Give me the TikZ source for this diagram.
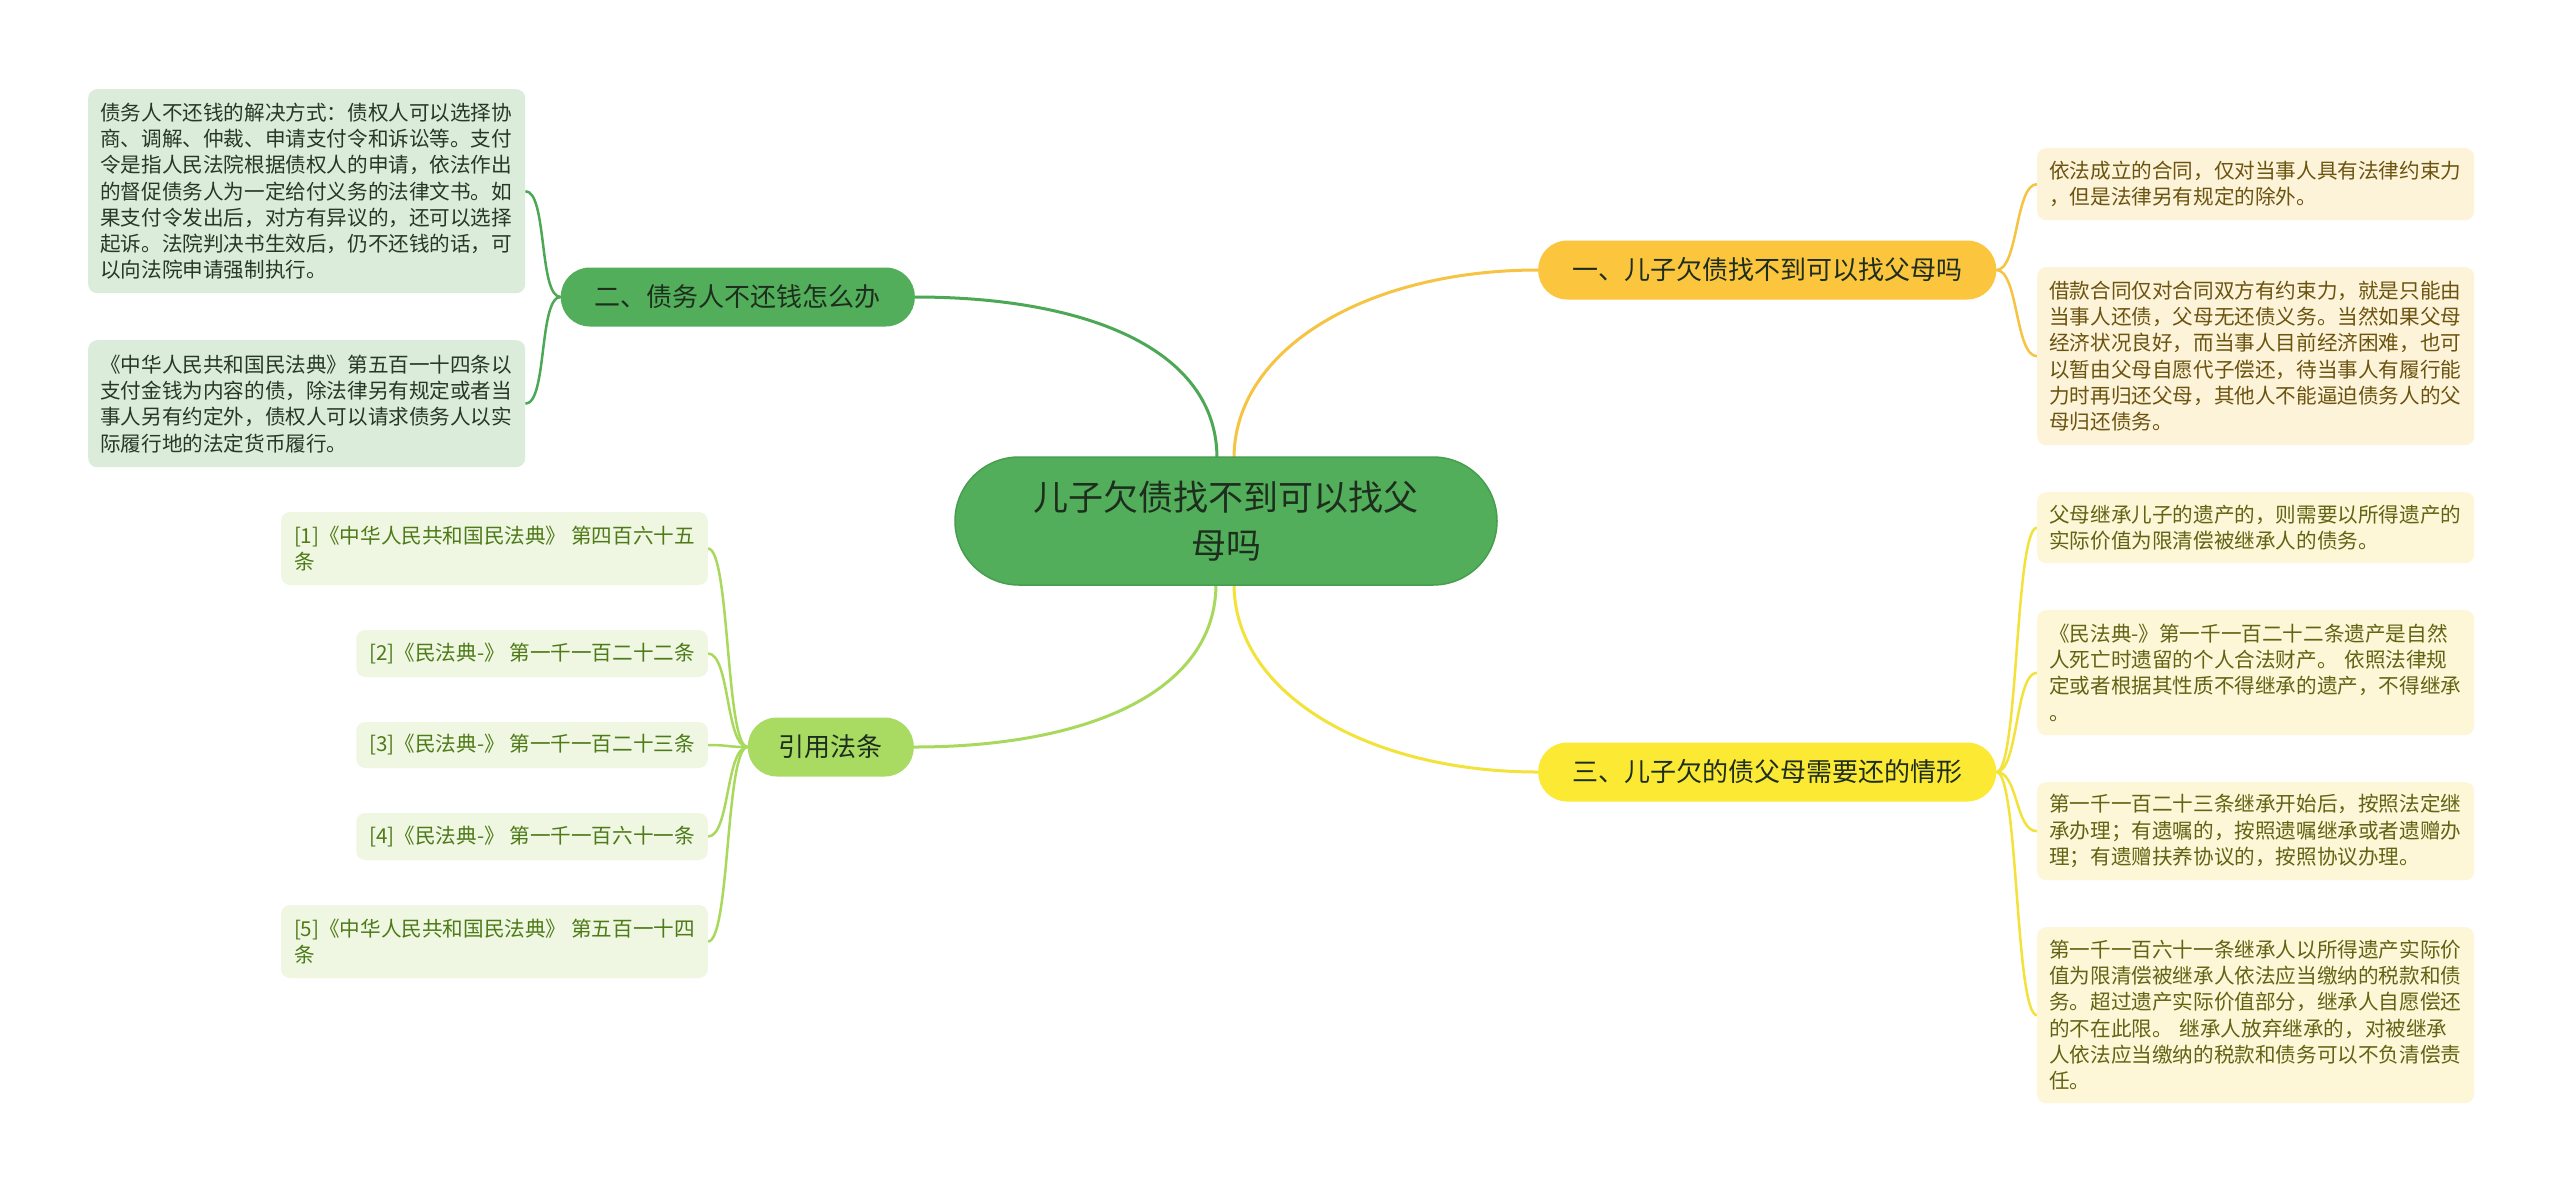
\documentclass[tikz,border=0pt]{standalone}
\usepackage{fontspec}
\setmainfont{Noto Sans CJK SC}
\usetikzlibrary{calc}
\pgfdeclarelayer{bg}
\pgfsetlayers{bg,main}
\definecolor{cCentral}{HTML}{52AE5A}
\definecolor{cCentralLine}{HTML}{479E4F}
\definecolor{cGreen}{HTML}{52AE5A}
\definecolor{cLime}{HTML}{A9DB62}
\definecolor{cOrange}{HTML}{FBC53D}
\definecolor{cYellow}{HTML}{FBE934}
\definecolor{eGreen}{HTML}{4CA855}
\definecolor{eLime}{HTML}{A9D95C}
\definecolor{eOrange}{HTML}{F6C342}
\definecolor{eYellow}{HTML}{F2E23A}
\definecolor{fL}{HTML}{DCECDB}
\definecolor{tL}{HTML}{263826}
\definecolor{fR}{HTML}{EFF7E2}
\definecolor{tR}{HTML}{4E7A18}
\definecolor{fY}{HTML}{FDF3D9}
\definecolor{tY}{HTML}{6B5410}
\definecolor{fZ}{HTML}{FDF7D7}
\definecolor{tZ}{HTML}{636314}
\definecolor{tDark}{HTML}{1E2E1E}
\begin{document}
\begin{tikzpicture}[x=1pt,y=-1pt,
  rootbox/.style={fill=cCentral,draw=cCentralLine,line width=1.5pt,rounded corners=64pt,
    minimum width=542pt,minimum height=128pt,align=center,text=tDark,
    font=\fontsize{35pt}{48pt}\selectfont},
  branchbox/.style={rounded corners=29pt,minimum height=59pt,inner xsep=34pt,inner ysep=0pt,
    text=tDark,font=\fontsize{26pt}{30pt}\selectfont},
  leafbox/.style={rounded corners=9pt,align=left,inner xsep=12pt,inner ysep=6pt,
    font=\fontsize{20.6pt}{26.3pt}\selectfont},
  leafL/.style={leafbox,fill=fL,text=tL,text width=413pt},
  leafR/.style={leafbox,fill=fR,text=tR,inner xsep=13pt},
  leafY/.style={leafbox,fill=fY,text=tY,text width=413pt},
  leafZ/.style={leafbox,fill=fZ,text=tZ,text width=413pt},
  trunk/.style={line width=3pt},
  twig/.style={line width=2.5pt}
]
\begin{pgfonlayer}{bg}
\fill[white] (0,0) rectangle (2560,1195);
\end{pgfonlayer}
\useasboundingbox (0,0) rectangle (2560,1195);

% root
\node[rootbox] (root) at (1226,521) {儿子欠债找不到可以找父\\母吗};

% branches
\node[branchbox,fill=cOrange,anchor=west] (b1) at (1538,270) {一、儿子欠债找不到可以找父母吗};
\node[branchbox,fill=cYellow,anchor=west] (b3) at (1538,772) {三、儿子欠的债父母需要还的情形};
\node[branchbox,fill=cGreen,anchor=east] (b2) at (915,297) {二、债务人不还钱怎么办};
\node[branchbox,fill=cLime,anchor=east,inner xsep=31pt] (b4) at (914,747) {引用法条};

% left leaves (b2)
\node[leafL,anchor=north west,minimum height=204pt] (l1) at (88,89) {债务人不还钱的解决方式：债权人可以选择协\\商、调解、仲裁、申请支付令和诉讼等。支付\\令是指人民法院根据债权人的申请，依法作出\\的督促债务人为一定给付义务的法律文书。如\\果支付令发出后，对方有异议的，还可以选择\\起诉。法院判决书生效后，仍不还钱的话，可\\以向法院申请强制执行。};
\node[leafL,anchor=north west,minimum height=127pt] (l2) at (88,340) {《中华人民共和国民法典》第五百一十四条以\\支付金钱为内容的债，除法律另有规定或者当\\事人另有约定外，债权人可以请求债务人以实\\际履行地的法定货币履行。};

% reference leaves (b4)
\node[leafR,anchor=east,minimum height=73pt] (r1) at (708,548.5) {[1]《中华人民共和国民法典》 第四百六十五\\条};
\node[leafR,anchor=east,minimum height=47pt] (r2) at (708,653.5) {[2]《民法典-》 第一千一百二十二条};
\node[leafR,anchor=east,minimum height=46pt] (r3) at (708,745) {[3]《民法典-》 第一千一百二十三条};
\node[leafR,anchor=east,minimum height=47pt] (r4) at (708,836.5) {[4]《民法典-》 第一千一百六十一条};
\node[leafR,anchor=east,minimum height=73pt] (r5) at (708,941.5) {[5]《中华人民共和国民法典》 第五百一十四\\条};

% right leaves (b1)
\node[leafY,anchor=north west,minimum height=72pt] (y1) at (2037,148) {依法成立的合同，仅对当事人具有法律约束力\\，但是法律另有规定的除外。};
\node[leafY,anchor=north west,minimum height=178pt] (y2) at (2037,267) {借款合同仅对合同双方有约束力，就是只能由\\当事人还债，父母无还债义务。当然如果父母\\经济状况良好，而当事人目前经济困难，也可\\以暂由父母自愿代子偿还，待当事人有履行能\\力时再归还父母，其他人不能逼迫债务人的父\\母归还债务。};

% right leaves (b3)
\node[leafZ,anchor=north west,minimum height=71pt] (z1) at (2037,492) {父母继承儿子的遗产的，则需要以所得遗产的\\实际价值为限清偿被继承人的债务。};
\node[leafZ,anchor=north west,minimum height=125pt] (z2) at (2037,610) {《民法典-》第一千一百二十二条遗产是自然\\人死亡时遗留的个人合法财产。 依照法律规\\定或者根据其性质不得继承的遗产，不得继承\\。};
\node[leafZ,anchor=north west,minimum height=98pt] (z3) at (2037,782) {第一千一百二十三条继承开始后，按照法定继\\承办理；有遗嘱的，按照遗嘱继承或者遗赠办\\理；有遗赠扶养协议的，按照协议办理。};
\node[leafZ,anchor=north west,minimum height=176pt] (z4) at (2037,927) {第一千一百六十一条继承人以所得遗产实际价\\值为限清偿被继承人依法应当缴纳的税款和债\\务。超过遗产实际价值部分，继承人自愿偿还\\的不在此限。 继承人放弃继承的，对被继承\\人依法应当缴纳的税款和债务可以不负清偿责\\任。};

\begin{pgfonlayer}{bg}
% root to branches
\draw[trunk,eGreen] ($(root.north)+(-9,2)$) .. controls +(0,-110) and +(170,0) .. (b2.east);
\draw[trunk,eOrange] ($(root.north)+(8,2)$) .. controls +(0,-110) and +(-170,0) .. (b1.west);
\draw[trunk,eLime] ($(root.south)+(-10,-2)$) .. controls +(0,110) and +(170,0) .. (b4.east);
\draw[trunk,eYellow] ($(root.south)+(8,-2)$) .. controls +(0,110) and +(-170,0) .. (b3.west);
% b2 to leaves
\foreach \n in {l1,l2}
  \draw[twig,eGreen] (b2.west) .. controls +(-22,0) and +(22,0) .. (\n.east);
% b4 to leaves
\foreach \n in {r1,r2,r3,r4,r5}
  \draw[twig,eLime] (b4.west) .. controls +(-22,0) and +(22,0) .. (\n.east);
% b1 to leaves
\foreach \n in {y1,y2}
  \draw[twig,eOrange] (b1.east) .. controls +(22,0) and +(-22,0) .. (\n.west);
% b3 to leaves
\foreach \n in {z1,z2,z3,z4}
  \draw[twig,eYellow] (b3.east) .. controls +(22,0) and +(-22,0) .. (\n.west);
\end{pgfonlayer}
\end{tikzpicture}
\end{document}
